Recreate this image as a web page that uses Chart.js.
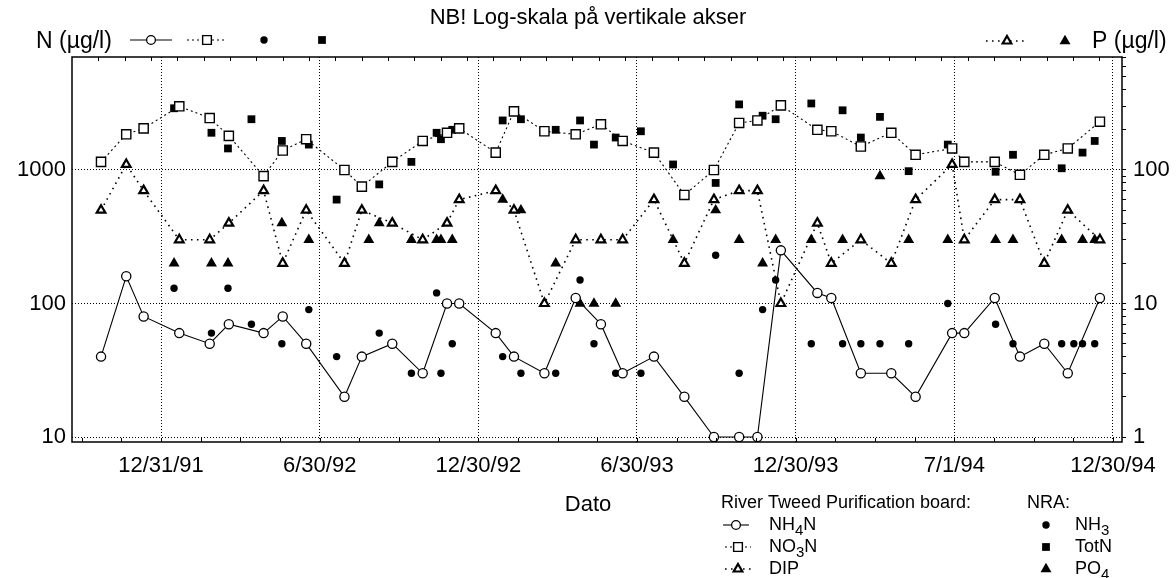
<!DOCTYPE html>
<html>
<head>
<meta charset="utf-8">
<title>River Tweed - N og P</title>
<script src="https://cdn.jsdelivr.net/npm/chart.js@4.4.0/dist/chart.umd.min.js"></script>
<style>
  html, body { margin: 0; padding: 0; background: #fff; }
  #wrap { width: 1176px; height: 578px; }
</style>
</head>
<body>
<div id="wrap"><canvas id="chart" width="1176" height="578"></canvas></div>
<script>
// River Tweed Purification board samples (same dates for all three series)
const rtDates = [
  '1991-10-23', '1991-11-21', '1991-12-11', '1992-01-21', '1992-02-25', '1992-03-18',
  '1992-04-27', '1992-05-19', '1992-06-15', '1992-07-29', '1992-08-18', '1992-09-22',
  '1992-10-27', '1992-11-24', '1992-12-08', '1993-01-19', '1993-02-09', '1993-03-16',
  '1993-04-21', '1993-05-20', '1993-06-14', '1993-07-20', '1993-08-24', '1993-09-27',
  '1993-10-26', '1993-11-16', '1993-12-13', '1994-01-24', '1994-02-09', '1994-03-15',
  '1994-04-19', '1994-05-17', '1994-06-28', '1994-07-12', '1994-08-16', '1994-09-14',
  '1994-10-12', '1994-11-08', '1994-12-15'
];
const nh4n = [40, 160, 80, 60, 50, 70, 60, 80, 50, 20, 40, 50, 30, 100, 100, 60, 40, 30, 110, 70,
  30, 40, 20, 10, 10, 10, 250, 120, 110, 30, 30, 20, 60, 60, 110, 40, 50, 30, 110];
const no3n = [1150, 1850, 2050, 3000, 2450, 1800, 900, 1400, 1700, 1000, 750, 1150, 1650, 1900, 2050,
  1350, 2750, 1950, 1850, 2200, 1650, 1350, 650, 1000, 2250, 2350, 3050, 2000, 1950, 1500,
  1900, 1300, 1450, 1150, 1150, 920, 1300, 1450, 2300];
const dip = [50, 110, 70, 30, 30, 40, 70, 20, 50, 20, 50, 40, 30, 40, 60, 70, 50, 10, 30, 30,
  30, 60, 20, 60, 70, 70, 10, 40, 20, 30, 20, 60, 110, 30, 60, 60, 20, 50, 30];

// NRA samples (null = not measured that day)
const nraDates = [
  '1992-01-15', '1992-02-27', '1992-03-17', '1992-04-13', '1992-05-18', '1992-06-18',
  '1992-07-20', '1992-08-26', '1992-09-07', '1992-10-14', '1992-11-12', '1992-11-17',
  '1992-11-30', '1993-01-27', '1993-02-17', '1993-03-29', '1993-04-26', '1993-05-12',
  '1993-06-06', '1993-07-05', '1993-08-11', '1993-09-29', '1993-10-26', '1993-11-22',
  '1993-12-07', '1994-01-17', '1994-02-22', '1994-03-15', '1994-04-06', '1994-05-09',
  '1994-06-23', '1994-08-17', '1994-09-06', '1994-11-01', '1994-11-15', '1994-11-25',
  '1994-12-09'
];
const nh3 = [130, 60, 130, 70, 50, 90, 40, null, 60, 30, 120, 30, 50, 40, 30, 30, 150, 50, 30, 30,
  null, 230, 30, 90, 150, 50, 50, 50, 50, 50, 100, 70, 50, 50, 50, 50, 50];
const totN = [2900, 1900, 1450, 2400, 1650, 1550, 600, null, 780, 1150, 1900, 1700, 2000, 2350, 2400,
  2000, 2350, 1550, 1750, 1950, 1100, 800, 3100, 2550, 2400, 3150, 2800, 1750, 2500, 980,
  1550, 970, 1300, 1030, null, 1350, 1650];
const po4 = [20, 20, 20, null, 40, 30, null, 30, 40, 30, 30, 30, 30, 60, 50, 20, 10, 10, 10, null,
  30, 50, 30, 20, 30, 30, 30, 30, 90, 30, 30, 30, 30, 30, null, 30, 30];

// axis labels
const xLabels = ['12/31/91', '6/30/92', '12/30/92', '6/30/93', '12/30/93', '7/1/94', '12/30/94'];
const yTicks = [10, 100, 1000];
const y2Ticks = [1, 2, 3, 4, 5, 6, 7, 8, 9, 10, 20, 30, 40, 50, 60, 70, 80, 90,
  100, 200, 300, 400, 500, 600, 700];
const y2Labels = [1, 10, 100];

// x is measured in days after 12/31/91
const day0 = Date.UTC(1991, 11, 31);
function toDay(s) {
  const [y, m, d] = s.split('-').map(Number);
  return (Date.UTC(y, m - 1, d) - day0) / 86400000;
}
function pts(dates, values) {
  return dates.map((d, i) => ({ x: toDay(d), y: values[i] })).filter(p => p.y != null);
}

const minorStep = 45.625;          // 4 minor ticks per half year
const topTickStart = -72.1;        // monthly marks along the top edge
const topTickStep = 30.3;
const xTickValues = [];
for (let k = -2; k <= 24; k++) xTickValues.push(k * minorStep);
const isMajor = v => Math.round(v / minorStep) % 4 === 0;

const FONT = '"Liberation Sans", Arial, Helvetica, sans-serif';
const font = size => size + 'px ' + FONT;

const styles = {
  nh4n: { pointStyle: 'circle', radius: 4.6, fill: '#fff', borderWidth: 1.3, dash: [], lineWidth: 1.1 },
  no3n: { pointStyle: 'rect', radius: 6.5, fill: '#fff', borderWidth: 1.4, dash: [2, 3], lineWidth: 1.1 },
  dip: { pointStyle: 'triangle', radius: 5, fill: '#fff', borderWidth: 2.2, dash: [1.6, 4.4], lineWidth: 1.6 },
  nh3: { pointStyle: 'circle', radius: 3.7, fill: '#000', borderWidth: 0 },
  totN: { pointStyle: 'rect', radius: 5.5, fill: '#000', borderWidth: 0 },
  po4: { pointStyle: 'triangle', radius: 6.3, fill: '#000', borderWidth: 0 }
};

function dataset(label, data, s, axis) {
  return {
    label: label,
    data: data,
    yAxisID: axis,
    showLine: !!s.dash,
    borderColor: '#000',
    borderWidth: s.lineWidth || 1,
    borderDash: s.dash || [],
    tension: 0,
    fill: false,
    pointStyle: s.pointStyle,
    pointRadius: s.radius,
    pointBackgroundColor: s.fill,
    pointBorderColor: '#000',
    pointBorderWidth: s.borderWidth
  };
}

// own marker drawing for the legends, same shapes as the chart points
function drawMark(ctx, s, x, y, scale) {
  const r = s.radius * scale;
  ctx.setLineDash([]);
  ctx.beginPath();
  if (s.pointStyle === 'circle') {
    ctx.arc(x, y, r, 0, Math.PI * 2);
  } else if (s.pointStyle === 'rect') {
    const h = r * Math.SQRT1_2;
    ctx.rect(x - h, y - h, 2 * h, 2 * h);
  } else {
    for (let k = 0; k < 3; k++) {
      const a = k * 2 * Math.PI / 3;
      const px = x + Math.sin(a) * r, py = y - Math.cos(a) * r;
      if (k) ctx.lineTo(px, py); else ctx.moveTo(px, py);
    }
    ctx.closePath();
  }
  ctx.fillStyle = s.fill;
  ctx.fill();
  if (s.borderWidth) {
    ctx.lineWidth = s.borderWidth;
    ctx.strokeStyle = '#000';
    ctx.stroke();
  }
}

function legendItem(ctx, s, cx, cy, half, scale) {
  if (s.dash) {
    ctx.beginPath();
    ctx.setLineDash(s.dash);
    ctx.lineWidth = s.lineWidth;
    ctx.strokeStyle = '#000';
    ctx.moveTo(cx - half, cy);
    ctx.lineTo(cx + half, cy);
    ctx.stroke();
  }
  drawMark(ctx, s, cx, cy, scale);
}

// text with subscript parts: [['NH', 0], ['4', 1], ['N', 0]]
function subText(ctx, parts, x, y, size) {
  let cx = x;
  parts.forEach(([t, sub]) => {
    ctx.font = font(sub ? Math.round(size * 0.85) : size);
    ctx.fillText(t, cx, y + (sub ? size * 0.3 : 0));
    cx += ctx.measureText(t).width;
  });
}

const decorations = {
  id: 'decorations',
  afterDraw(chart) {
    const { ctx, chartArea: a, scales } = chart;
    const x = scales.x;
    ctx.save();
    ctx.setLineDash([]);
    ctx.strokeStyle = '#000';

    // frame
    ctx.lineWidth = 1.5;
    ctx.strokeRect(a.left, a.top, a.right - a.left, a.bottom - a.top);

    // inward tick marks on bottom and top edges
    ctx.lineWidth = 1;
    ctx.beginPath();
    x.ticks.forEach(t => {
      const px = Math.round(x.getPixelForValue(t.value)) + 0.5;
      ctx.moveTo(px, a.bottom);
      ctx.lineTo(px, a.bottom - 4);
    });
    for (let d = topTickStart; d < x.max; d += topTickStep) {
      const px = Math.round(x.getPixelForValue(d)) + 0.5;
      ctx.moveTo(px, a.top);
      ctx.lineTo(px, a.top + 4);
    }
    ctx.stroke();

    // titles
    ctx.fillStyle = '#000';
    ctx.textBaseline = 'middle';
    ctx.textAlign = 'center';
    ctx.font = font(22);
    ctx.fillText('NB! Log-skala på vertikale akser', 588, 18);
    ctx.fillText('Dato', 588, 505);
    ctx.textAlign = 'left';
    ctx.font = font(23);
    ctx.fillText('N (µg/l)', 36, 42);
    ctx.fillText('P (µg/l)', 1092, 42);

    // top legend row
    legendItem(ctx, styles.nh4n, 151, 40, 21, 0.95);
    legendItem(ctx, styles.no3n, 207, 40, 20, 0.95);
    legendItem(ctx, styles.nh3, 264, 40, 0, 1);
    legendItem(ctx, styles.totN, 322, 40, 0, 1);
    legendItem(ctx, styles.dip, 1007, 41, 21, 1);
    legendItem(ctx, styles.po4, 1065, 41, 0, 1);

    // bottom legend
    ctx.fillStyle = '#000';
    ctx.font = font(18);
    ctx.fillText('River Tweed Purification board:', 721, 503);
    ctx.fillText('NRA:', 1027, 503);
    const rows = [525, 547, 569];
    legendItem(ctx, styles.nh4n, 736, rows[0], 13, 0.95);
    legendItem(ctx, styles.no3n, 738, rows[1], 13, 0.95);
    legendItem(ctx, styles.dip, 738, rows[2], 13, 1);
    legendItem(ctx, styles.nh3, 1046, rows[0], 0, 1);
    legendItem(ctx, styles.totN, 1046, rows[1], 0, 1);
    legendItem(ctx, styles.po4, 1046, rows[2], 0, 1);
    ctx.fillStyle = '#000';
    subText(ctx, [['NH', 0], ['4', 1], ['N', 0]], 769, rows[0], 18);
    subText(ctx, [['NO', 0], ['3', 1], ['N', 0]], 769, rows[1], 18);
    subText(ctx, [['DIP', 0]], 769, rows[2], 18);
    subText(ctx, [['NH', 0], ['3', 1]], 1075, rows[0], 18);
    subText(ctx, [['TotN', 0]], 1075, rows[1], 18);
    subText(ctx, [['PO', 0], ['4', 1]], 1075, rows[2], 18);
    ctx.restore();
  }
};

new Chart(document.getElementById('chart'), {
  type: 'line',
  data: {
    datasets: [
      dataset('NH4N', pts(rtDates, nh4n), styles.nh4n, 'y'),
      dataset('NO3N', pts(rtDates, no3n), styles.no3n, 'y'),
      dataset('DIP', pts(rtDates, dip), styles.dip, 'y2'),
      dataset('NH3', pts(nraDates, nh3), styles.nh3, 'y'),
      dataset('TotN', pts(nraDates, totN), styles.totN, 'y'),
      dataset('PO4', pts(nraDates, po4), styles.po4, 'y2')
    ]
  },
  options: {
    responsive: false,
    animation: false,
    devicePixelRatio: 1,
    layout: { padding: { top: 57, left: 0, right: 0, bottom: 0 } },
    plugins: {
      legend: { display: false },
      title: { display: false },
      tooltip: { enabled: false }
    },
    scales: {
      x: {
        type: 'linear',
        min: -102.4,
        max: 1105.4,
        bounds: 'data',
        afterBuildTicks: s => { s.ticks = xTickValues.map(v => ({ value: v })); },
        afterFit: s => { s.height = 136; },
        ticks: {
          autoSkip: false,
          maxRotation: 0,
          padding: 11,
          color: '#000',
          font: { family: FONT, size: 22 },
          callback: v => isMajor(v) ? xLabels[Math.round(v / minorStep) / 4] : ''
        },
        grid: {
          drawTicks: false,
          lineWidth: 1,
          color: c => (c.tick && isMajor(c.tick.value)) ? '#000' : 'rgba(0,0,0,0)'
        },
        border: { display: false, dash: [1, 2] }
      },
      y: {
        type: 'logarithmic',
        position: 'left',
        min: 9.174,
        max: 7020,
        bounds: 'data',
        afterBuildTicks: s => { s.ticks = yTicks.map(v => ({ value: v })); },
        afterFit: s => { s.width = 72; },
        ticks: {
          autoSkip: false,
          padding: 6,
          color: '#000',
          font: { family: FONT, size: 22 },
          callback: v => String(v)
        },
        grid: { drawTicks: false, lineWidth: 1, color: '#000' },
        border: { display: false, dash: [1, 2] }
      },
      y2: {
        type: 'logarithmic',
        position: 'right',
        min: 0.9174,
        max: 702,
        bounds: 'data',
        afterBuildTicks: s => { s.ticks = y2Ticks.map(v => ({ value: v })); },
        afterFit: s => { s.width = 54; },
        ticks: {
          autoSkip: false,
          padding: 7,
          color: '#000',
          font: { family: FONT, size: 22 },
          callback: v => y2Labels.includes(v) ? String(v) : ''
        },
        grid: {
          drawOnChartArea: false,
          drawTicks: true,
          tickLength: 4,
          tickColor: '#000',
          color: '#000'
        },
        border: { display: false }
      }
    }
  },
  plugins: [decorations]
});
</script>
</body>
</html>
